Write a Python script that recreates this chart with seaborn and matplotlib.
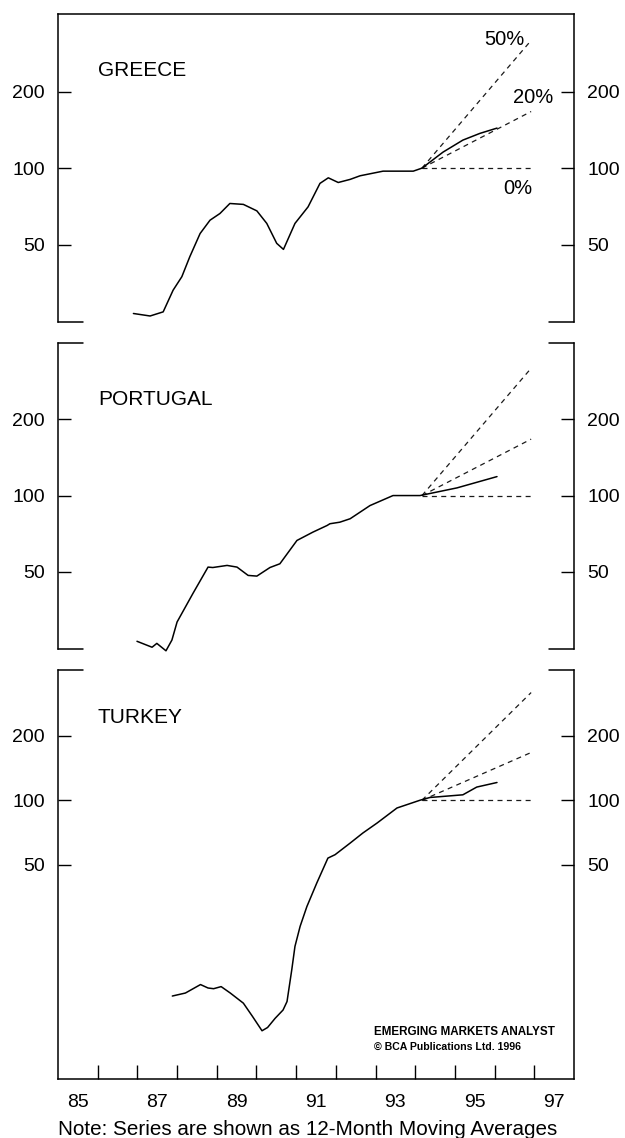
import numpy as np
import matplotlib
matplotlib.use('Agg')
import matplotlib.pyplot as plt
import matplotlib.ticker as mticker
import seaborn as sns

# index levels (log scale); x in decimal years
greece_year = [1986.90, 1987.32, 1987.65, 1987.90, 1988.12, 1988.32, 1988.58, 1988.83,
               1989.08, 1989.33, 1989.67, 1990.01, 1990.26, 1990.51, 1990.68, 1990.97,
               1991.30, 1991.60, 1991.81, 1992.06, 1992.36, 1992.61, 1993.19, 1993.95,
               1994.17, 1994.70, 1995.20, 1995.63, 1996.06]
greece_index = [26.8, 26.2, 27.2, 33.1, 37.4, 44.8, 55.3, 62.4,
                66.3, 72.6, 72.0, 67.9, 60.6, 50.6, 47.9, 60.6,
                70.4, 87.1, 91.6, 87.8, 90.3, 93.3, 97.3, 97.3,
                100, 115.6, 128.9, 137, 143.7]

portugal_year = [1986.99, 1987.37, 1987.49, 1987.72, 1987.87, 1988.00, 1988.40, 1988.78,
                 1988.90, 1989.26, 1989.51, 1989.79, 1990.01, 1990.34, 1990.59, 1991.02,
                 1991.42, 1991.78, 1991.85, 1992.10, 1992.36, 1992.86, 1993.44, 1994.12,
                 1995.05, 1996.06]
portugal_index = [26.6, 25.2, 26.1, 24.4, 26.9, 31.7, 41.1, 52.2,
                  52.0, 53.0, 52.2, 48.4, 48.1, 52.0, 53.8, 66.5,
                  71.7, 76.2, 77.4, 78.5, 81.0, 91.3, 100, 100,
                  107.2, 118.8]

turkey_year = [1987.88, 1988.21, 1988.59, 1988.78, 1988.92, 1989.11, 1989.34, 1989.67,
               1989.90, 1990.14, 1990.28, 1990.47, 1990.67, 1990.77, 1990.89, 1990.97,
               1991.10, 1991.27, 1991.52, 1991.80, 1991.98, 1992.36, 1992.68, 1993.04,
               1993.54, 1994.12, 1994.37, 1995.20, 1995.55, 1996.06]
turkey_index = [12.2, 12.6, 13.8, 13.3, 13.2, 13.5, 12.6, 11.3,
                9.8, 8.4, 8.7, 9.6, 10.5, 11.5, 16.2, 20.8,
                25.8, 31.9, 41.1, 53.7, 55.7, 63.1, 70.3, 78.3,
                92.0, 100, 103, 106, 115.2, 121]

# growth paths from the 1994 base
proj_year = [1994.17, 1996.92]
proj_0 = [100, 100]
proj_20 = [100, 167]
proj_50 = [100, 318]

countries = ['GREECE', 'PORTUGAL', 'TURKEY']
series = [(greece_year, greece_index), (portugal_year, portugal_index),
          (turkey_year, turkey_index)]
ylims = [(24.8, 404), (24.8, 400), (5.0, 405)]
yticks = [50, 100, 200]
xlabel_pos = [1985.5, 1987.5, 1989.5, 1991.5, 1993.5, 1995.5, 1997.5]
xlabel_txt = ['85', '87', '89', '91', '93', '95', '97']

sns.set_style('white')
plt.rcParams['font.family'] = ['Liberation Sans', 'DejaVu Sans']
plt.rcParams['text.color'] = 'black'

fig = plt.figure(figsize=(6.25, 11.38), dpi=100)
boxes = [[0.0928, 0.7170, 0.8256, 0.2707],
         [0.0928, 0.4297, 0.8256, 0.2689],
         [0.0928, 0.0518, 0.8256, 0.3594]]
label_y = [0.815, 0.814, 0.885]
stub = 0.048

for i, (name, (xs, ys)) in enumerate(zip(countries, series)):
    ax = fig.add_axes(boxes[i])
    ax.set_yscale('log')
    for p in (proj_0, proj_20, proj_50):
        sns.lineplot(x=proj_year, y=p, ax=ax, color='#1a1a1a', lw=0.9,
                     linestyle=(0, (4, 3.5)))
    sns.lineplot(x=xs, y=ys, ax=ax, color='black', lw=1.1, clip_on=False)
    ax.set_xlim(1985, 1998)
    ax.set_ylim(*ylims[i])
    ax.set_xlabel('')
    ax.set_ylabel('')

    ax.yaxis.set_major_locator(mticker.FixedLocator(yticks))
    ax.yaxis.set_major_formatter(mticker.FuncFormatter(lambda v, _: f'{v:g}'))
    ax.yaxis.set_minor_locator(mticker.NullLocator())
    ax.tick_params(axis='y', which='major', left=True, right=True,
                   labelleft=True, labelright=True, direction='in',
                   length=9.5, width=1.0, pad=9.5, labelsize=14, colors='black')

    for s in ax.spines.values():
        s.set_color('black')
        s.set_linewidth(1.1)
    ax.spines['top'].set_visible(i == 0)
    ax.spines['bottom'].set_visible(i == 2)

    # short corner stubs where the frame is broken between panels
    if i > 0:
        for x0, x1 in ((0, stub), (1 - stub, 1)):
            ax.plot([x0, x1], [1, 1], color='black', lw=1.1,
                    transform=ax.transAxes, clip_on=False)
    if i < 2:
        for x0, x1 in ((0, stub), (1 - stub, 1)):
            ax.plot([x0, x1], [0, 0], color='black', lw=1.1,
                    transform=ax.transAxes, clip_on=False)

    if i == 2:
        ax.xaxis.set_major_locator(mticker.FixedLocator(range(1986, 1998)))
        ax.xaxis.set_major_formatter(mticker.NullFormatter())
        ax.xaxis.set_minor_locator(mticker.FixedLocator(xlabel_pos))
        ax.xaxis.set_minor_formatter(mticker.FixedFormatter(xlabel_txt))
        ax.tick_params(axis='x', which='major', bottom=True, direction='in',
                       length=10, width=1.0, colors='black')
        ax.tick_params(axis='x', which='minor', bottom=True, length=0,
                       pad=11, labelsize=14, colors='black')
        ax.text(0.612, 0.115, 'EMERGING MARKETS ANALYST', transform=ax.transAxes,
                fontsize=8.4, fontweight='bold', ha='left', va='center')
        ax.text(0.612, 0.078, '\u00a9 BCA Publications Ltd. 1996', transform=ax.transAxes,
                fontsize=7.6, fontweight='bold', ha='left', va='center')
    else:
        ax.set_xticks([])

    ax.text(0.0775, label_y[i], name, transform=ax.transAxes, fontsize=15,
            ha='left', va='center')

    if i == 0:
        ax.text(0.866, 0.916, '50%', transform=ax.transAxes, fontsize=14.5,
                ha='center', va='center')
        ax.text(0.921, 0.73, '20%', transform=ax.transAxes, fontsize=14.5,
                ha='center', va='center')
        ax.text(0.891, 0.435, '0%', transform=ax.transAxes, fontsize=14.5,
                ha='center', va='center')

fig.text(0.493, 0.0075, 'Note: Series are shown as 12-Month Moving Averages',
         ha='center', va='center', fontsize=14.9)

fig.savefig('out.png', dpi=100)
